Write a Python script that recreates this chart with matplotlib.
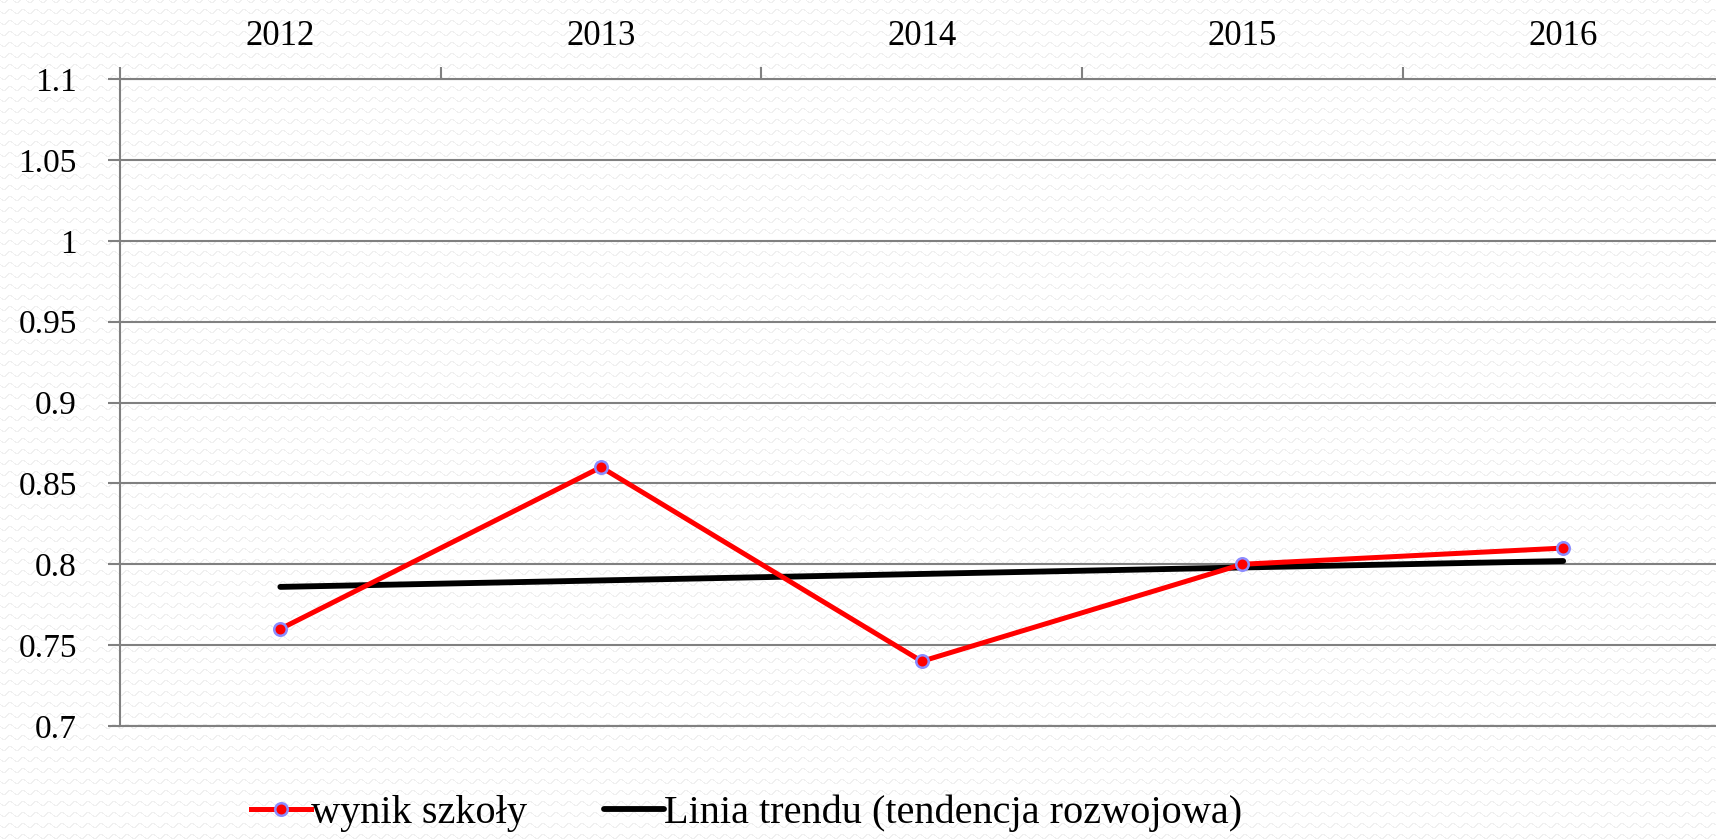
import numpy as np
import matplotlib.pyplot as plt

# data
years = ['2012', '2013', '2014', '2015', '2016']
wynik = [0.76, 0.86, 0.74, 0.80, 0.81]
trend = [0.786, 0.790, 0.794, 0.798, 0.802]
ytick_vals = [0.7, 0.75, 0.8, 0.85, 0.9, 0.95, 1.0, 1.05, 1.1]
ytick_labels = ['0.7', '0.75', '0.8', '0.85', '0.9', '0.95', '1', '1.05', '1.1']

plt.rcParams['font.family'] = ['Liberation Serif', 'DejaVu Serif']

grid_col = '#808080'
W, H = 1716, 839

fig = plt.figure(figsize=(W / 100, H / 100), dpi=100, facecolor='white')

# faint wavy background texture of the slide
yy, xx = np.mgrid[0:H, 0:W]
d = np.mod(yy - 2.0 * np.sin(2 * np.pi * xx / 13.0), 11.0)
bg = np.where(np.minimum(d, 11.0 - d) < 0.8, 0.94, 1.0)
fig.figimage(bg, cmap='gray', vmin=0, vmax=1, zorder=-10)

ax = fig.add_axes([120 / W, 1 - 726 / H, 1 - 120 / W, (726 - 79) / H])
ax.set_zorder(1)
ax.set_facecolor('none')

x = np.arange(len(years))
ax.plot(x, trend, color='black', lw=4.2, solid_capstyle='round', zorder=3,
        label='Linia trendu (tendencja rozwojowa)')
ax.plot(x, wynik, color='#ff0000', lw=3.6, marker='o', markersize=9,
        markerfacecolor='#ff0000', markeredgecolor='#8c8cff', markeredgewidth=1.8,
        zorder=4, label='wynik szkoły')

ax.set_xlim(-0.5, -0.5 + (W - 120) / 320.7)
ax.set_ylim(0.7, 1.1)

# x axis on top: tick marks between categories, labels at category centres
ax.xaxis.tick_top()
ax.set_xticks(np.arange(-0.5, len(years) - 0.5, 1.0))
ax.set_xticklabels([])
ax.set_xticks(x, minor=True)
ax.set_xticklabels(years, minor=True)
ax.tick_params(axis='x', which='major', direction='out', length=9, width=1.5,
               color=grid_col, top=True, bottom=False)
ax.tick_params(axis='x', which='minor', length=0, pad=19, labelsize=25,
               top=True, bottom=False, labeltop=True, labelbottom=False)

ax.set_yticks(ytick_vals)
ax.set_yticklabels(ytick_labels)
ax.tick_params(axis='y', direction='out', length=9, width=1.5, color=grid_col,
               pad=22, labelsize=24)

ax.yaxis.grid(True, color=grid_col, lw=1.5)
ax.set_axisbelow(True)
for side in ['top', 'bottom', 'left']:
    ax.spines[side].set_color(grid_col)
    ax.spines[side].set_linewidth(1.5)
ax.spines['right'].set_visible(False)

handles, labels = ax.get_legend_handles_labels()
leg = fig.legend(handles[::-1], labels[::-1], loc='center', ncol=2,
                 bbox_to_anchor=(0.435, 0.031), frameon=False, fontsize=29,
                 handlelength=1.5, handletextpad=0.0, columnspacing=1.9,
                 borderpad=0, borderaxespad=0)
leg.set_zorder(2)

fig.savefig('out.png', dpi=100, facecolor='white')
